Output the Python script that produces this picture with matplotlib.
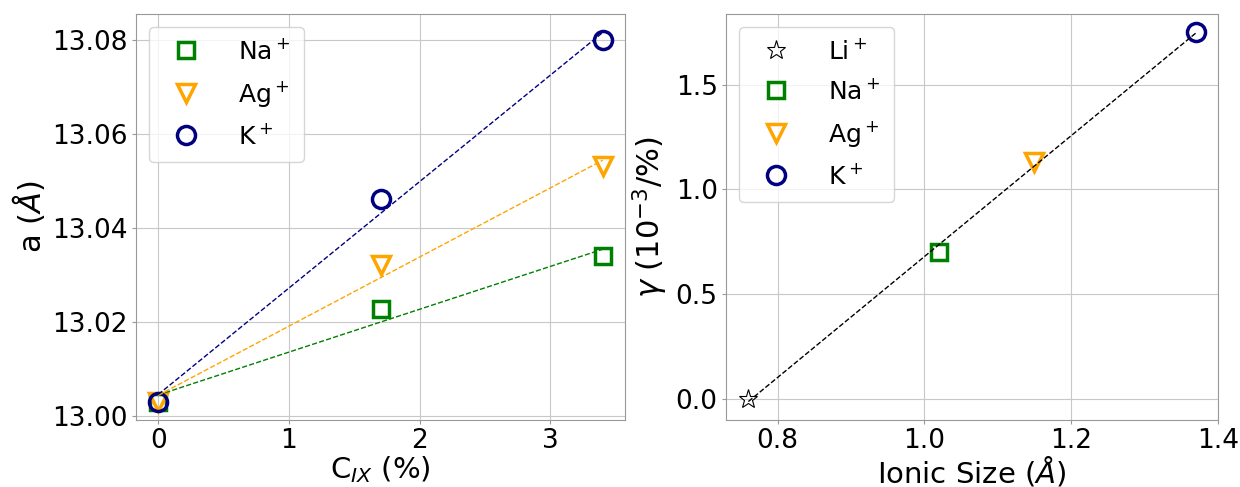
import numpy as np
import matplotlib
matplotlib.use("Agg")
import matplotlib.pyplot as plt

# ---- data: left panel ----
conc = [0.0, 1.7, 3.4]
a_na = [13.003, 13.0227, 13.034]
a_ag = [13.003, 13.032, 13.053]
a_k = [13.003, 13.046, 13.080]

# ---- data: right panel ----
ions = ["Li$^+$", "Na$^+$", "Ag$^+$", "K$^+$"]
ionic_size = [0.76, 1.02, 1.15, 1.37]
gamma = [0.0, 0.70, 1.13, 1.75]

GREEN = "green"
ORANGE = "orange"
NAVY = "navy"

plt.rcParams["font.family"] = ["DejaVu Sans"]
plt.rcParams["mathtext.fontset"] = "dejavusans"

fig = plt.figure(figsize=(12.4, 4.87), dpi=100)
W, H = 1240, 487
ax1 = fig.add_axes([136 / W, (H - 420) / H, (625 - 136) / W, (420 - 14) / H])
ax2 = fig.add_axes([726 / W, (H - 420) / H, (1218 - 726) / W, (420 - 14) / H])

for ax in (ax1, ax2):
    ax.grid(True, color="#c8c8c8", lw=0.8)
    ax.set_axisbelow(True)
    for s in ax.spines.values():
        s.set_color("#999999")
    ax.tick_params(labelsize=19, color="#999999", length=3, pad=3)

# left panel
series = [("Na$^+$", a_na, "s", GREEN, 12), ("Ag$^+$", a_ag, "v", ORANGE, 13), ("K$^+$", a_k, "o", NAVY, 13)]
xs = np.array(conc)
for lab, ys, mk, col, ms in series:
    ax1.plot(conc, ys, linestyle="none", marker=mk, ms=ms, mfc="none", mec=col, mew=2.5, label=lab)
for lab, ys, mk, col, ms in series:
    p = np.polyfit(conc, ys, 1)
    ax1.plot(xs, np.polyval(p, xs), "--", color=col, lw=1)
ax1.set_yticks([13.00, 13.02, 13.04, 13.06, 13.08])
ax1.set_yticklabels(["13.00", "13.02", "13.04", "13.06", "13.08"])
ax1.set_xticks([0, 1, 2, 3])
ax1.set_ylabel(r"a ($\AA$)", fontsize=22)
ax1.set_xlabel(r"C$_{IX}$ (%)", fontsize=21, labelpad=0)
ax1.legend(loc="upper left", fontsize=18, handletextpad=1.1, labelspacing=0.6, borderpad=0.5)

# right panel
styles = [("*", "black", 14, 0.8), ("s", GREEN, 12, 2.5), ("v", ORANGE, 13, 2.5), ("o", NAVY, 13, 2.5)]
for lab, x, y, (mk, col, ms, mew) in zip(ions, ionic_size, gamma, styles):
    ax2.plot([x], [y], linestyle="none", marker=mk, ms=ms, mfc="none", mec=col, mew=mew, label=lab)
p2 = np.polyfit(ionic_size, gamma, 1)
xr = np.array([min(ionic_size), max(ionic_size)])
ax2.plot(xr, np.polyval(p2, xr), "--", color="black", lw=1)
ax2.set_xticks([0.8, 1.0, 1.2, 1.4])
ax2.set_yticks([0.0, 0.5, 1.0, 1.5])
ax2.set_xlim(0.7295, 1.4005)
ax2.set_ylabel(r"$\gamma$ ($10^{-3}$/%)", fontsize=22)
ax2.set_xlabel(r"Ionic Size ($\AA$)", fontsize=21, labelpad=0)
ax2.legend(loc="upper left", fontsize=18, handletextpad=1.1, labelspacing=0.6, borderpad=0.5)

fig.savefig("out.png", dpi=100)
